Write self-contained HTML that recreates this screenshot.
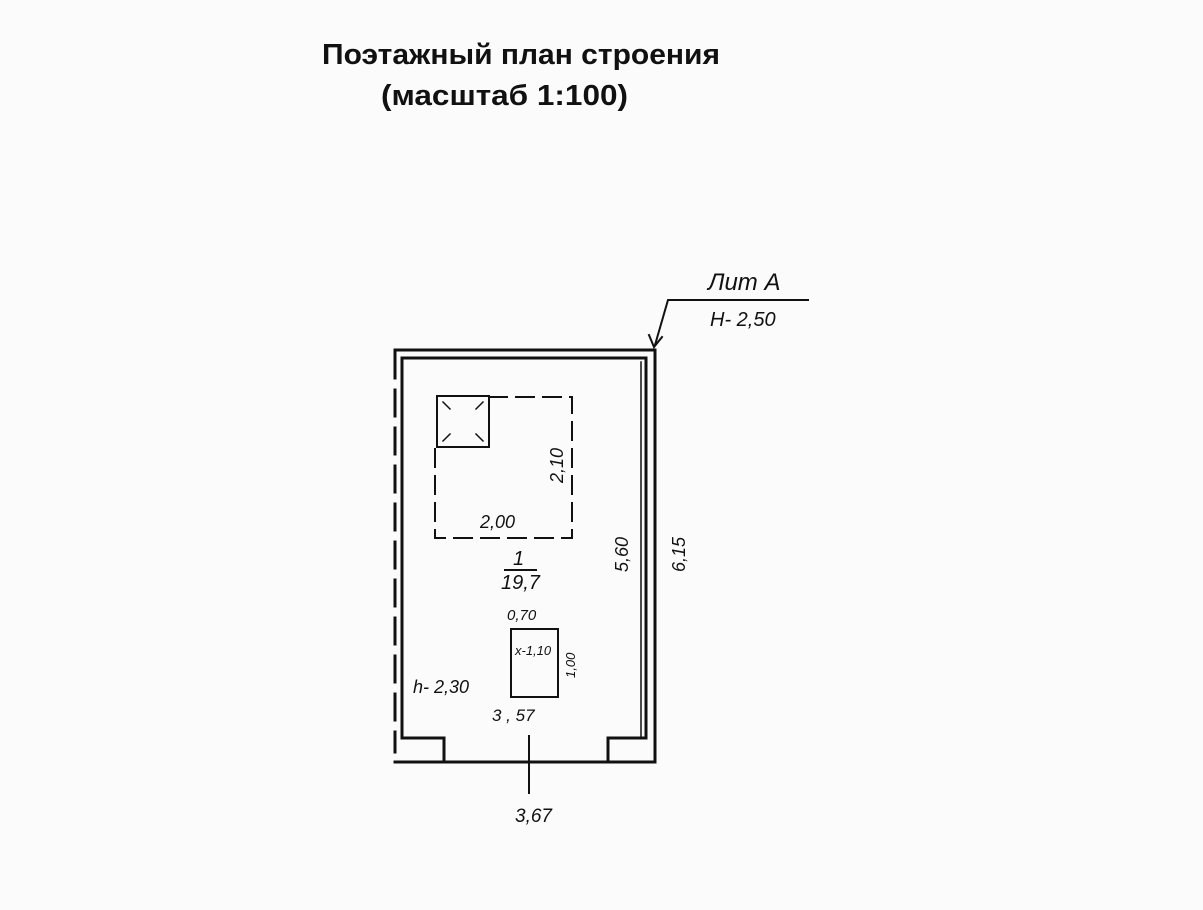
<!DOCTYPE html>
<html><head><meta charset="utf-8"><style>
html,body{margin:0;padding:0;background:#fbfbfb;}
svg{display:block}
.t{font-family:"Liberation Sans",sans-serif;font-weight:bold;font-size:29px;fill:#111}
.h{font-family:"Liberation Sans",sans-serif;font-style:italic;fill:#111}
</style></head><body>
<svg width="1203" height="910" viewBox="0 0 1203 910" xmlns="http://www.w3.org/2000/svg">
<rect width="1203" height="910" fill="#fbfbfb"/>
<text class="t" x="322" y="64" textLength="398" lengthAdjust="spacingAndGlyphs">Поэтажный план строения</text>
<text class="t" x="381" y="105" textLength="247" lengthAdjust="spacingAndGlyphs">(масштаб 1:100)</text>
<g stroke="#111" fill="none" stroke-linecap="square">
<path d="M395 350 H655 V762 H395" stroke-width="3"/>
<path d="M395 352 V752" stroke-width="3" stroke-dasharray="26 12"/>
<path d="M402 358 H646 V738 H608 V762" stroke-width="3"/>
<path d="M402 358 V738 H444 V762" stroke-width="3"/>
<path d="M641 362 V738" stroke-width="1.5"/>
<path d="M655 345 L668 300 H808" stroke-width="2"/>
<path d="M649 335 L654 347 L662 337" stroke-width="2"/>
<path d="M489 397 H572 V538 H435 V447" stroke-width="2" stroke-dasharray="18 9"/>
<rect x="437" y="396" width="52" height="51" stroke-width="2"/>
<path d="M443 402 L450 409 M483 402 L476 409 M443 441 L450 434 M483 441 L476 434" stroke-width="1.5"/>
<rect x="511" y="629" width="47" height="68" stroke-width="2"/>
<path d="M505 570 H536" stroke-width="2"/>
<path d="M529 736 V793" stroke-width="2"/>
</g>
<g class="h">
<text x="708" y="290" font-size="24">Лит А</text>
<text x="710" y="326" font-size="20">Н- 2,50</text>
<text x="480" y="528" font-size="18">2,00</text>
<text x="0" y="0" font-size="18" transform="translate(563,483) rotate(-90)">2,10</text>
<text x="0" y="0" font-size="18" transform="translate(628,572) rotate(-90)">5,60</text>
<text x="0" y="0" font-size="18" transform="translate(685,572) rotate(-90)">6,15</text>
<text x="513" y="565" font-size="20">1</text>
<text x="501" y="589" font-size="20">19,7</text>
<text x="507" y="620" font-size="15">0,70</text>
<text x="515" y="655" font-size="13">х-1,10</text>
<text x="0" y="0" font-size="13" transform="translate(575,678) rotate(-90)">1,00</text>
<text x="413" y="693" font-size="18">h- 2,30</text>
<text x="492" y="721" font-size="17">3 , 57</text>
<text x="515" y="822" font-size="19">3,67</text>
</g>
</svg>
</body></html>
